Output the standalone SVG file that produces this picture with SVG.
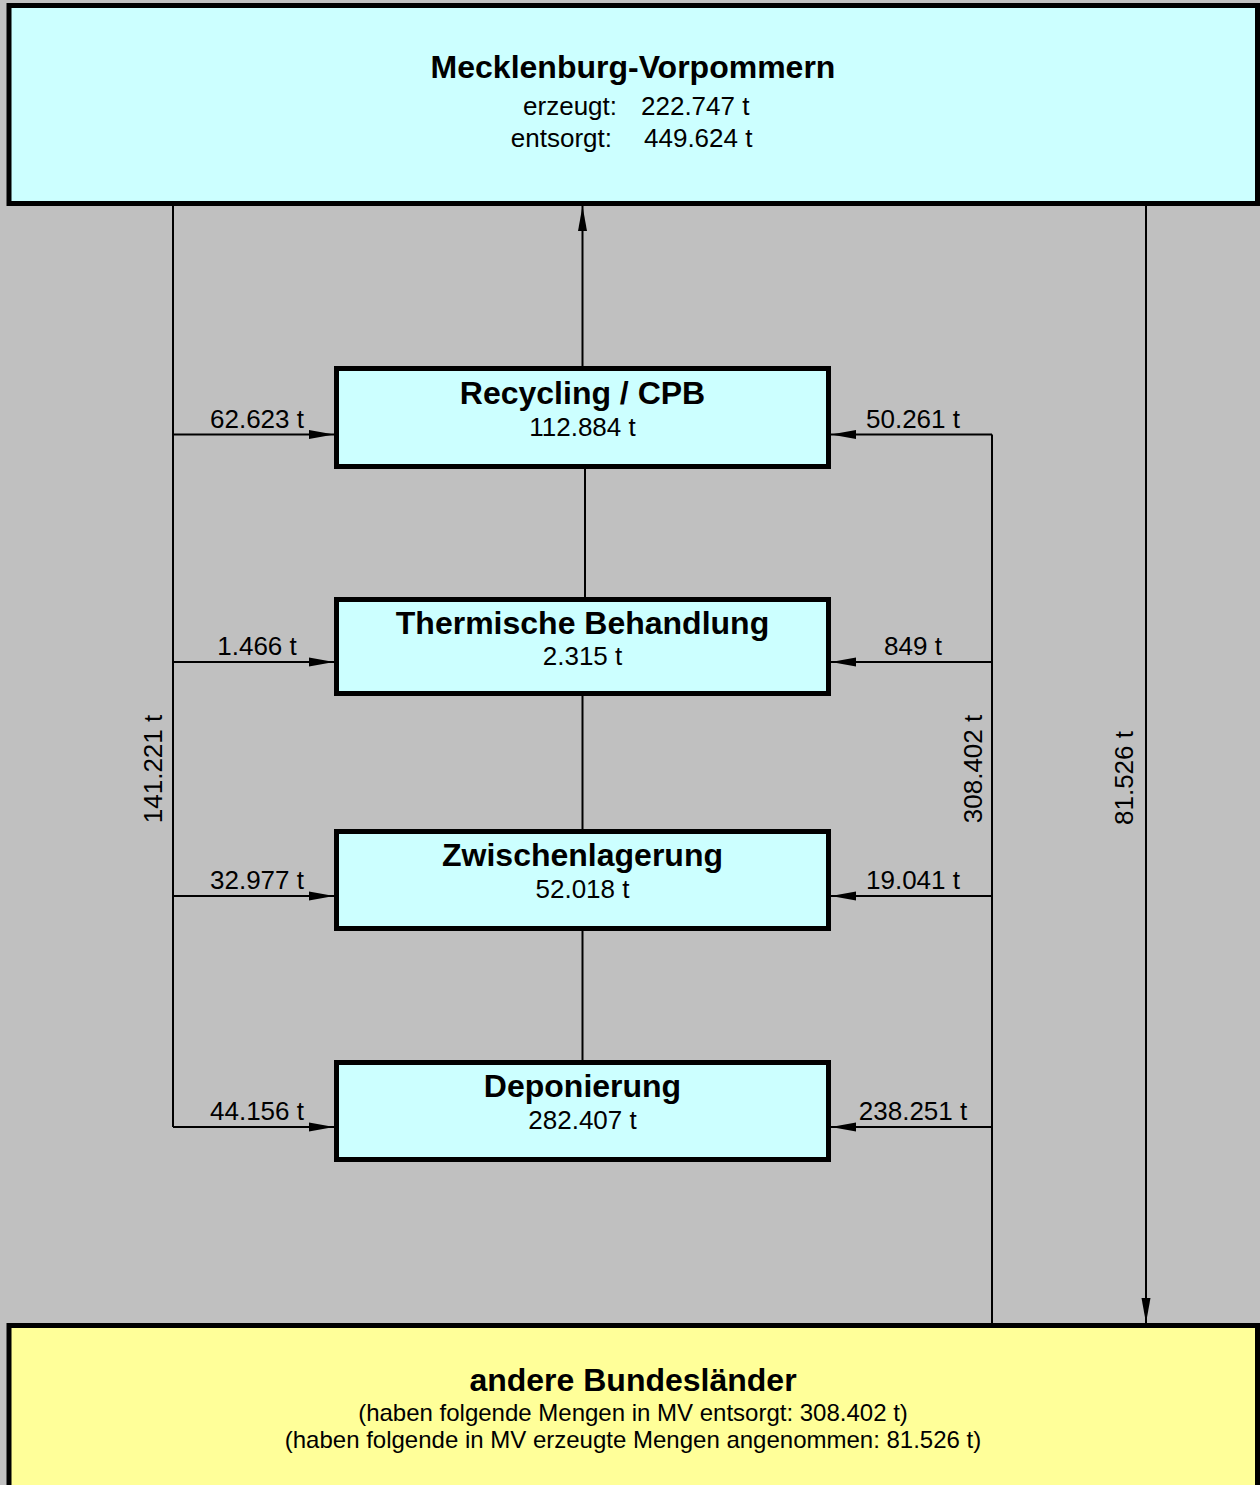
<svg xmlns="http://www.w3.org/2000/svg" width="1260" height="1485" viewBox="0 0 1260 1485">
<style>
text{font-family:"Liberation Sans",Arial,sans-serif;fill:#000}
.t{font-size:32px;font-weight:bold;text-anchor:middle}
.v{font-size:26px;text-anchor:middle}
.s{font-size:24px;text-anchor:middle}
.box{fill:#ccffff;stroke:#000;stroke-width:5}
.ln{stroke:#000;stroke-width:2;fill:none}
</style>
<defs>
<marker id="ah" markerUnits="userSpaceOnUse" markerWidth="26" markerHeight="10" refX="25" refY="5" orient="auto">
<path d="M0,0.5 L25,5 L0,9.5 Z" fill="#000"/>
</marker>
</defs>
<rect x="0" y="0" width="1260" height="1485" fill="#c0c0c0"/>

<g id="connectors">
<line class="ln" x1="173" y1="206" x2="173" y2="1127"/>
<line class="ln" x1="173" y1="434.5" x2="334" y2="434.5" marker-end="url(#ah)"/>
<line class="ln" x1="173" y1="662" x2="334" y2="662" marker-end="url(#ah)"/>
<line class="ln" x1="173" y1="896" x2="334" y2="896" marker-end="url(#ah)"/>
<line class="ln" x1="173" y1="1127" x2="334" y2="1127" marker-end="url(#ah)"/>
<line class="ln" x1="992" y1="434.5" x2="992" y2="1323"/>
<line class="ln" x1="992" y1="434.5" x2="831" y2="434.5" marker-end="url(#ah)"/>
<line class="ln" x1="992" y1="662" x2="831" y2="662" marker-end="url(#ah)"/>
<line class="ln" x1="992" y1="896" x2="831" y2="896" marker-end="url(#ah)"/>
<line class="ln" x1="992" y1="1127" x2="831" y2="1127" marker-end="url(#ah)"/>
<line class="ln" x1="582.5" y1="366" x2="582.5" y2="206" marker-end="url(#ah)"/>
<line class="ln" x1="585" y1="469" x2="585" y2="597"/>
<line class="ln" x1="582.5" y1="696" x2="582.5" y2="829"/>
<line class="ln" x1="582.5" y1="931" x2="582.5" y2="1060"/>
<line class="ln" x1="1146" y1="206" x2="1146" y2="1323" marker-end="url(#ah)"/>
<text class="v" x="257" y="427.5">62.623 t</text>
<text class="v" x="257" y="655">1.466 t</text>
<text class="v" x="257" y="889">32.977 t</text>
<text class="v" x="257" y="1120">44.156 t</text>
<text class="v" x="913" y="427.5">50.261 t</text>
<text class="v" x="913" y="655">849 t</text>
<text class="v" x="913" y="889">19.041 t</text>
<text class="v" x="913" y="1120">238.251 t</text>
<text class="v" transform="translate(162,769) rotate(-90)">141.221 t</text>
<text class="v" transform="translate(982,769) rotate(-90)">308.402 t</text>
<text class="v" transform="translate(1133,778) rotate(-90)">81.526 t</text>
</g>

<g id="mv">
<rect class="box" x="9" y="5.5" width="1248.5" height="198"/>
<text class="t" x="633" y="78">Mecklenburg-Vorpommern</text>
<text class="v" x="617" y="115" style="text-anchor:end">erzeugt:</text>
<text class="v" x="641" y="115" style="text-anchor:start">222.747 t</text>
<text class="v" x="612" y="147" style="text-anchor:end">entsorgt:</text>
<text class="v" x="644" y="147" style="text-anchor:start">449.624 t</text>
</g>

<g id="recycling">
<rect class="box" x="336.5" y="368.5" width="492" height="98"/>
<text class="t" x="582.5" y="404">Recycling / CPB</text>
<text class="v" x="582.5" y="436">112.884 t</text>
</g>

<g id="thermisch">
<rect class="box" x="336.5" y="599.5" width="492" height="94"/>
<text class="t" x="582.5" y="634">Thermische Behandlung</text>
<text class="v" x="582.5" y="665">2.315 t</text>
</g>

<g id="zwischen">
<rect class="box" x="336.5" y="831.5" width="492" height="97"/>
<text class="t" x="582.5" y="866">Zwischenlagerung</text>
<text class="v" x="582.5" y="898">52.018 t</text>
</g>

<g id="deponie">
<rect class="box" x="336.5" y="1062.5" width="492" height="97"/>
<text class="t" x="582.5" y="1097">Deponierung</text>
<text class="v" x="582.5" y="1129">282.407 t</text>
</g>

<g id="andere">
<rect x="9" y="1325.5" width="1248.5" height="170" fill="#ffff99" stroke="#000" stroke-width="5"/>
<text class="t" x="633" y="1391">andere Bundesländer</text>
<text class="s" x="633" y="1420.5">(haben folgende Mengen in MV entsorgt: 308.402 t)</text>
<text class="s" x="633" y="1447.5">(haben folgende in MV erzeugte Mengen angenommen: 81.526 t)</text>
</g>
</svg>
